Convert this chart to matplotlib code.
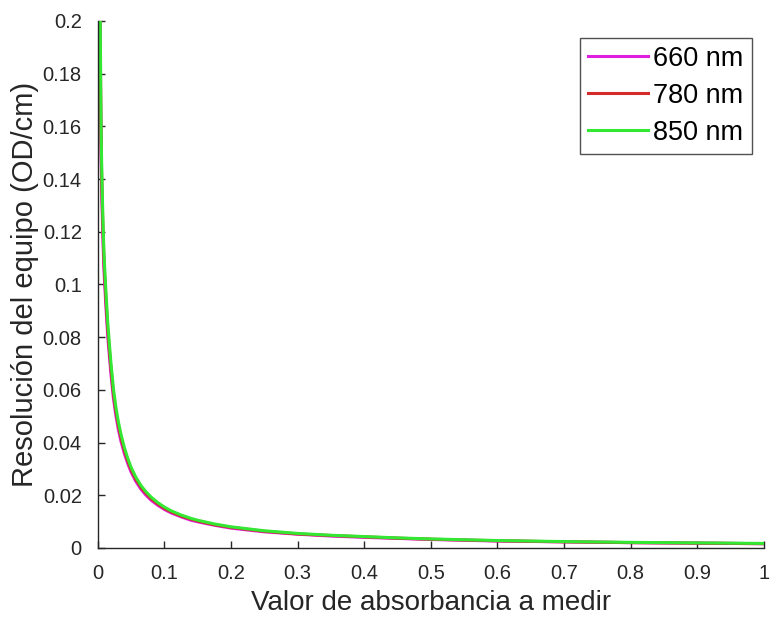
import matplotlib
matplotlib.use("Agg")
import matplotlib.pyplot as plt

plt.rcParams['font.family'] = ['Liberation Sans', 'DejaVu Sans']

absorbance = [0.0033, 0.0037, 0.0045, 0.005, 0.006, 0.0075, 0.009, 0.01, 0.0125, 0.015,
              0.0175, 0.02, 0.0235, 0.027, 0.031, 0.035, 0.04, 0.045, 0.05, 0.057,
              0.065, 0.072, 0.08, 0.09, 0.1, 0.11, 0.125, 0.14, 0.15, 0.175,
              0.2, 0.25, 0.3, 0.35, 0.4, 0.45, 0.5, 0.6, 0.7, 0.8,
              0.9, 1.0]
res_660 = [0.211, 0.188, 0.161, 0.149, 0.134, 0.119, 0.107, 0.102, 0.0902, 0.0802,
           0.0725, 0.0653, 0.0568, 0.0505, 0.0448, 0.0403, 0.0357, 0.0320, 0.0288, 0.0253,
           0.0222, 0.0201, 0.0181, 0.0162, 0.0146, 0.0133, 0.0118, 0.0105, 0.0099, 0.0086,
           0.0075, 0.0061, 0.0052, 0.0045, 0.0040, 0.0036, 0.0032, 0.0026, 0.0023, 0.0020,
           0.0018, 0.0016]
res_780 = [0.218, 0.194, 0.166, 0.153, 0.139, 0.123, 0.111, 0.105, 0.0931, 0.0827,
           0.0748, 0.0674, 0.0586, 0.0521, 0.0463, 0.0416, 0.0369, 0.0330, 0.0297, 0.0261,
           0.0229, 0.0208, 0.0187, 0.0167, 0.0150, 0.0137, 0.0121, 0.0109, 0.0102, 0.0088,
           0.0078, 0.0063, 0.0053, 0.0047, 0.0042, 0.0037, 0.0033, 0.0027, 0.0023, 0.0020,
           0.0018, 0.0016]
res_850 = [0.224, 0.200, 0.171, 0.158, 0.143, 0.127, 0.114, 0.108, 0.0960, 0.0853,
           0.0771, 0.0695, 0.0604, 0.0537, 0.0477, 0.0429, 0.0380, 0.0340, 0.0306, 0.0269,
           0.0236, 0.0214, 0.0193, 0.0172, 0.0155, 0.0141, 0.0125, 0.0112, 0.0105, 0.0091,
           0.0080, 0.0065, 0.0055, 0.0048, 0.0043, 0.0038, 0.0034, 0.0028, 0.0024, 0.0021,
           0.0019, 0.0017]
labels = ['660 nm', '780 nm', '850 nm']
colors = ['#e01ee0', '#d42a2a', '#33e833']
xticks = [0, 0.1, 0.2, 0.3, 0.4, 0.5, 0.6, 0.7, 0.8, 0.9, 1]
xticklabels = ['0', '0.1', '0.2', '0.3', '0.4', '0.5', '0.6', '0.7', '0.8', '0.9', '1']
yticks = [0, 0.02, 0.04, 0.06, 0.08, 0.1, 0.12, 0.14, 0.16, 0.18, 0.2]
yticklabels = ['0', '0.02', '0.04', '0.06', '0.08', '0.1', '0.12', '0.14', '0.16', '0.18', '0.2']

fig = plt.figure(figsize=(7.7, 6.17), dpi=100)
ax = fig.add_axes([0.127, 0.112, 0.865, 0.854])

for ys, lab, col in zip([res_660, res_780, res_850], labels, colors):
    ax.plot(absorbance, ys, color=col, lw=2.2, label=lab)

ax.set_xlim(0, 1)
ax.set_ylim(0, 0.2)
ax.set_xticks(xticks)
ax.set_xticklabels(xticklabels)
ax.set_yticks(yticks)
ax.set_yticklabels(yticklabels)
ax.spines['top'].set_visible(False)
ax.spines['right'].set_visible(False)
for s in ['left', 'bottom']:
    ax.spines[s].set_color('#262626')
    ax.spines[s].set_linewidth(1.0)
ax.tick_params(direction='in', length=5, width=1, colors='#262626', labelsize=14.5,
               labelcolor='#262626')
ax.tick_params(axis='x', pad=11.5)
ax.tick_params(axis='y', pad=11.5)
ax.set_xlabel('Valor de absorbancia a medir', fontsize=20, color='#262626', labelpad=5)
ax.set_ylabel('Resolución del equipo (OD/cm)', fontsize=21, color='#262626', labelpad=3)

leg = ax.legend(loc='upper right', bbox_to_anchor=(0.982, 0.968), fontsize=19.5,
                frameon=True, fancybox=False, handlelength=2.2, handletextpad=0.2,
                borderpad=0.3, labelspacing=0.4, borderaxespad=0)
leg.get_frame().set_edgecolor('#262626')
leg.get_frame().set_linewidth(1.0)

fig.savefig('out.png', dpi=100)
